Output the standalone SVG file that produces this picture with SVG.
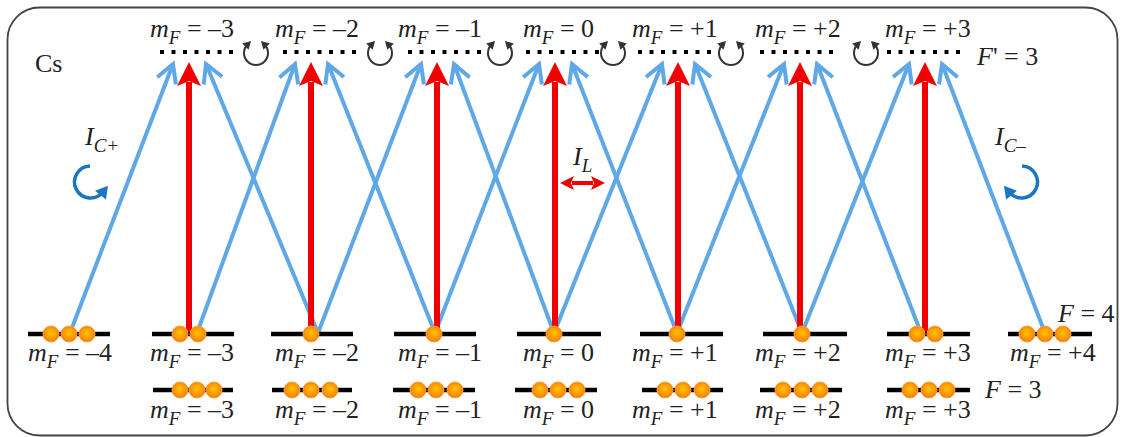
<svg xmlns="http://www.w3.org/2000/svg" width="1125" height="437" viewBox="0 0 1125 437">
<defs>
<radialGradient id="atomG" cx="50%" cy="45%" r="55%">
<stop offset="0" stop-color="#ffc400"/>
<stop offset="0.6" stop-color="#ff9a00"/>
<stop offset="1" stop-color="#f07a10"/>
</radialGradient>
<marker id="redHead" markerUnits="userSpaceOnUse" orient="auto" overflow="visible"><path d="M20,0 L-4,-12 L1,0 L-4,12 Z" fill="#f00000"/></marker>
<marker id="redSmall" markerUnits="userSpaceOnUse" orient="auto-start-reverse" overflow="visible"><path d="M12,0 L-2,-7 L1,0 L-2,7 Z" fill="#f00000"/></marker>
<marker id="blueHead" markerUnits="userSpaceOnUse" orient="auto" overflow="visible"><path d="M-18,-10 L0,0 L-18,10" fill="none" stroke="#5fa8e8" stroke-width="4"/></marker>
<marker id="loopHead" markerUnits="userSpaceOnUse" orient="auto-start-reverse" overflow="visible"><path d="M5,0 L-3,-4.5 L-3,4.5 Z" fill="#333"/></marker>
<marker id="curveHead" markerUnits="userSpaceOnUse" orient="auto" overflow="visible"><path d="M8,0 L-4,-7 L-4,7 Z" fill="#1b76c0"/></marker>
</defs>
<style>
text{font-family:'Liberation Serif','Times New Roman',serif;font-size:26px;fill:#222}
.i{font-style:italic}
.sub{font-size:19px;font-style:italic}
.lvl{stroke:#000;stroke-width:4.5}
.dot{stroke:#000;stroke-width:4;stroke-dasharray:4 7.5}
.atom{fill:url(#atomG);stroke:#f5a040;stroke-width:1}
.blue{stroke:#5fa8e8;stroke-width:4;fill:none;marker-end:url(#blueHead)}
.red{stroke:#f00000;stroke-width:6;marker-end:url(#redHead)}
.loop{fill:none;stroke:#333;stroke-width:2;marker-start:url(#loopHead);marker-end:url(#loopHead)}
.curve{fill:none;stroke:#1b76c0;stroke-width:3.5;marker-end:url(#curveHead)}
</style>

<rect id="frame" x="7.5" y="7.5" width="1110" height="428" rx="32" ry="32" fill="#fff" stroke="#444" stroke-width="1.8"/>

<text x="35" y="72">Cs</text>

<g id="connectors">
<g id="sigma-plus">
<line class="blue" x1="70" y1="333" x2="173" y2="64"/>
<line class="blue" x1="197" y1="333" x2="295" y2="64"/>
<line class="blue" x1="318" y1="333" x2="421" y2="64"/>
<line class="blue" x1="435" y1="333" x2="539" y2="64"/>
<line class="blue" x1="554" y1="333" x2="662" y2="64"/>
<line class="blue" x1="677" y1="333" x2="784" y2="64"/>
<line class="blue" x1="802" y1="333" x2="909" y2="64"/>
</g>
<g id="sigma-minus">
<line class="blue" x1="318" y1="333" x2="206" y2="64"/>
<line class="blue" x1="435" y1="333" x2="328" y2="64"/>
<line class="blue" x1="554" y1="333" x2="454" y2="64"/>
<line class="blue" x1="677" y1="333" x2="572" y2="64"/>
<line class="blue" x1="802" y1="333" x2="695" y2="64"/>
<line class="blue" x1="921" y1="333" x2="817" y2="64"/>
<line class="blue" x1="1045" y1="333" x2="942" y2="64"/>
</g>
<g id="pi">
<line class="red" x1="189" y1="334" x2="189" y2="82"/>
<line class="red" x1="311" y1="334" x2="311" y2="82"/>
<line class="red" x1="437" y1="334" x2="437" y2="82"/>
<line class="red" x1="555" y1="334" x2="555" y2="82"/>
<line class="red" x1="678" y1="334" x2="678" y2="82"/>
<line class="red" x1="800" y1="334" x2="800" y2="82"/>
<line class="red" x1="925" y1="334" x2="925" y2="82"/>
</g>
</g>

<g id="couplings">
<path class="loop" d="M247.5,44.5 A12,12 0 1 0 264.5,44.5"/>
<path class="loop" d="M371.5,44.5 A12,12 0 1 0 388.5,44.5"/>
<path class="loop" d="M491.5,44.5 A12,12 0 1 0 508.5,44.5"/>
<path class="loop" d="M604.5,44.5 A12,12 0 1 0 621.5,44.5"/>
<path class="loop" d="M722.5,44.5 A12,12 0 1 0 739.5,44.5"/>
<path class="loop" d="M857.5,44.5 A12,12 0 1 0 874.5,44.5"/>
</g>

<g id="light-IC-plus">
<text x="85" y="145"><tspan class="i">I</tspan><tspan class="sub" dy="7">C+</tspan></text>
<path class="curve" d="M90,166 A16,16 0 1 0 103,192"/>
</g>
<g id="light-IC-minus">
<text x="995" y="145"><tspan class="i">I</tspan><tspan class="sub" dy="7">C–</tspan></text>
<path class="curve" d="M1022,166 A16,16 0 1 1 1009,192"/>
</g>
<g id="light-IL">
<text x="573" y="165"><tspan class="i">I</tspan><tspan class="sub" dy="7">L</tspan></text>
<line x1="572" y1="183" x2="593" y2="183" stroke="#f00000" stroke-width="4" marker-start="url(#redSmall)" marker-end="url(#redSmall)"/>
</g>

<!-- F' = 3 excited levels -->
<g id="Fp3-m-3"><line class="dot" x1="160" y1="52" x2="233" y2="52"/><text x="150" y="37"><tspan class="i">m</tspan><tspan class="sub" dy="7">F</tspan><tspan dy="-7"> = –3</tspan></text></g>
<g id="Fp3-m-2"><line class="dot" x1="283" y1="52" x2="356" y2="52"/><text x="275" y="37"><tspan class="i">m</tspan><tspan class="sub" dy="7">F</tspan><tspan dy="-7"> = –2</tspan></text></g>
<g id="Fp3-m-1"><line class="dot" x1="408" y1="52" x2="481" y2="52"/><text x="398" y="37"><tspan class="i">m</tspan><tspan class="sub" dy="7">F</tspan><tspan dy="-7"> = –1</tspan></text></g>
<g id="Fp3-m0"><line class="dot" x1="526" y1="52" x2="599" y2="52"/><text x="523" y="37"><tspan class="i">m</tspan><tspan class="sub" dy="7">F</tspan><tspan dy="-7"> = 0</tspan></text></g>
<g id="Fp3-m+1"><line class="dot" x1="638" y1="52" x2="711" y2="52"/><text x="632" y="37"><tspan class="i">m</tspan><tspan class="sub" dy="7">F</tspan><tspan dy="-7"> = +1</tspan></text></g>
<g id="Fp3-m+2"><line class="dot" x1="760" y1="52" x2="833" y2="52"/><text x="755" y="37"><tspan class="i">m</tspan><tspan class="sub" dy="7">F</tspan><tspan dy="-7"> = +2</tspan></text></g>
<g id="Fp3-m+3"><line class="dot" x1="887" y1="52" x2="960" y2="52"/><text x="885" y="37"><tspan class="i">m</tspan><tspan class="sub" dy="7">F</tspan><tspan dy="-7"> = +3</tspan></text></g>
<text x="977" y="65"><tspan class="i">F</tspan>' = 3</text>

<!-- F = 4 ground levels -->
<g id="F4-m-4"><line class="lvl" x1="28" y1="334" x2="110" y2="334"/><circle class="atom" cx="51" cy="334" r="8"/><circle class="atom" cx="69" cy="334" r="8"/><circle class="atom" cx="87" cy="334" r="8"/><text x="28" y="361"><tspan class="i">m</tspan><tspan class="sub" dy="7">F</tspan><tspan dy="-7"> = –4</tspan></text></g>
<g id="F4-m-3"><line class="lvl" x1="152" y1="334" x2="234" y2="334"/><circle class="atom" cx="180" cy="334" r="8"/><circle class="atom" cx="198" cy="334" r="8"/><text x="150" y="361"><tspan class="i">m</tspan><tspan class="sub" dy="7">F</tspan><tspan dy="-7"> = –3</tspan></text></g>
<g id="F4-m-2"><line class="lvl" x1="271" y1="334" x2="353" y2="334"/><circle class="atom" cx="311" cy="334" r="8"/><text x="275" y="361"><tspan class="i">m</tspan><tspan class="sub" dy="7">F</tspan><tspan dy="-7"> = –2</tspan></text></g>
<g id="F4-m-1"><line class="lvl" x1="394" y1="334" x2="476" y2="334"/><circle class="atom" cx="434" cy="334" r="8"/><text x="398" y="361"><tspan class="i">m</tspan><tspan class="sub" dy="7">F</tspan><tspan dy="-7"> = –1</tspan></text></g>
<g id="F4-m0"><line class="lvl" x1="517" y1="334" x2="601" y2="334"/><circle class="atom" cx="554" cy="334" r="8"/><text x="523" y="361"><tspan class="i">m</tspan><tspan class="sub" dy="7">F</tspan><tspan dy="-7"> = 0</tspan></text></g>
<g id="F4-m+1"><line class="lvl" x1="640" y1="334" x2="723" y2="334"/><circle class="atom" cx="677" cy="334" r="8"/><text x="632" y="361"><tspan class="i">m</tspan><tspan class="sub" dy="7">F</tspan><tspan dy="-7"> = +1</tspan></text></g>
<g id="F4-m+2"><line class="lvl" x1="763" y1="334" x2="847" y2="334"/><circle class="atom" cx="802" cy="334" r="8"/><text x="755" y="361"><tspan class="i">m</tspan><tspan class="sub" dy="7">F</tspan><tspan dy="-7"> = +2</tspan></text></g>
<g id="F4-m+3"><line class="lvl" x1="887" y1="334" x2="970" y2="334"/><circle class="atom" cx="917" cy="334" r="8"/><circle class="atom" cx="935" cy="334" r="8"/><text x="885" y="361"><tspan class="i">m</tspan><tspan class="sub" dy="7">F</tspan><tspan dy="-7"> = +3</tspan></text></g>
<g id="F4-m+4"><line class="lvl" x1="1008" y1="334" x2="1092" y2="334"/><circle class="atom" cx="1027" cy="334" r="8"/><circle class="atom" cx="1045" cy="334" r="8"/><circle class="atom" cx="1063" cy="334" r="8"/><text x="1010" y="361"><tspan class="i">m</tspan><tspan class="sub" dy="7">F</tspan><tspan dy="-7"> = +4</tspan></text></g>
<text x="1058" y="322"><tspan class="i">F</tspan> = 4</text>

<!-- F = 3 ground levels -->
<g id="F3-m-3"><line class="lvl" x1="153" y1="390" x2="233" y2="390"/><circle class="atom" cx="180" cy="390" r="8"/><circle class="atom" cx="197" cy="390" r="8"/><circle class="atom" cx="214" cy="390" r="8"/><text x="150" y="418"><tspan class="i">m</tspan><tspan class="sub" dy="7">F</tspan><tspan dy="-7"> = –3</tspan></text></g>
<g id="F3-m-2"><line class="lvl" x1="272" y1="390" x2="352" y2="390"/><circle class="atom" cx="292" cy="390" r="8"/><circle class="atom" cx="311" cy="390" r="8"/><circle class="atom" cx="330" cy="390" r="8"/><text x="275" y="418"><tspan class="i">m</tspan><tspan class="sub" dy="7">F</tspan><tspan dy="-7"> = –2</tspan></text></g>
<g id="F3-m-1"><line class="lvl" x1="393" y1="390" x2="475" y2="390"/><circle class="atom" cx="418" cy="390" r="8"/><circle class="atom" cx="436" cy="390" r="8"/><circle class="atom" cx="455" cy="390" r="8"/><text x="398" y="418"><tspan class="i">m</tspan><tspan class="sub" dy="7">F</tspan><tspan dy="-7"> = –1</tspan></text></g>
<g id="F3-m0"><line class="lvl" x1="515" y1="390" x2="597" y2="390"/><circle class="atom" cx="540" cy="390" r="8"/><circle class="atom" cx="558" cy="390" r="8"/><circle class="atom" cx="577" cy="390" r="8"/><text x="523" y="418"><tspan class="i">m</tspan><tspan class="sub" dy="7">F</tspan><tspan dy="-7"> = 0</tspan></text></g>
<g id="F3-m+1"><line class="lvl" x1="642" y1="390" x2="723" y2="390"/><circle class="atom" cx="665" cy="390" r="8"/><circle class="atom" cx="683" cy="390" r="8"/><circle class="atom" cx="702" cy="390" r="8"/><text x="632" y="418"><tspan class="i">m</tspan><tspan class="sub" dy="7">F</tspan><tspan dy="-7"> = +1</tspan></text></g>
<g id="F3-m+2"><line class="lvl" x1="760" y1="390" x2="842" y2="390"/><circle class="atom" cx="783" cy="390" r="8"/><circle class="atom" cx="802" cy="390" r="8"/><circle class="atom" cx="820" cy="390" r="8"/><text x="755" y="418"><tspan class="i">m</tspan><tspan class="sub" dy="7">F</tspan><tspan dy="-7"> = +2</tspan></text></g>
<g id="F3-m+3"><line class="lvl" x1="887" y1="390" x2="970" y2="390"/><circle class="atom" cx="910" cy="390" r="8"/><circle class="atom" cx="929" cy="390" r="8"/><circle class="atom" cx="947" cy="390" r="8"/><text x="885" y="418"><tspan class="i">m</tspan><tspan class="sub" dy="7">F</tspan><tspan dy="-7"> = +3</tspan></text></g>
<text x="985" y="398"><tspan class="i">F</tspan> = 3</text>
</svg>
